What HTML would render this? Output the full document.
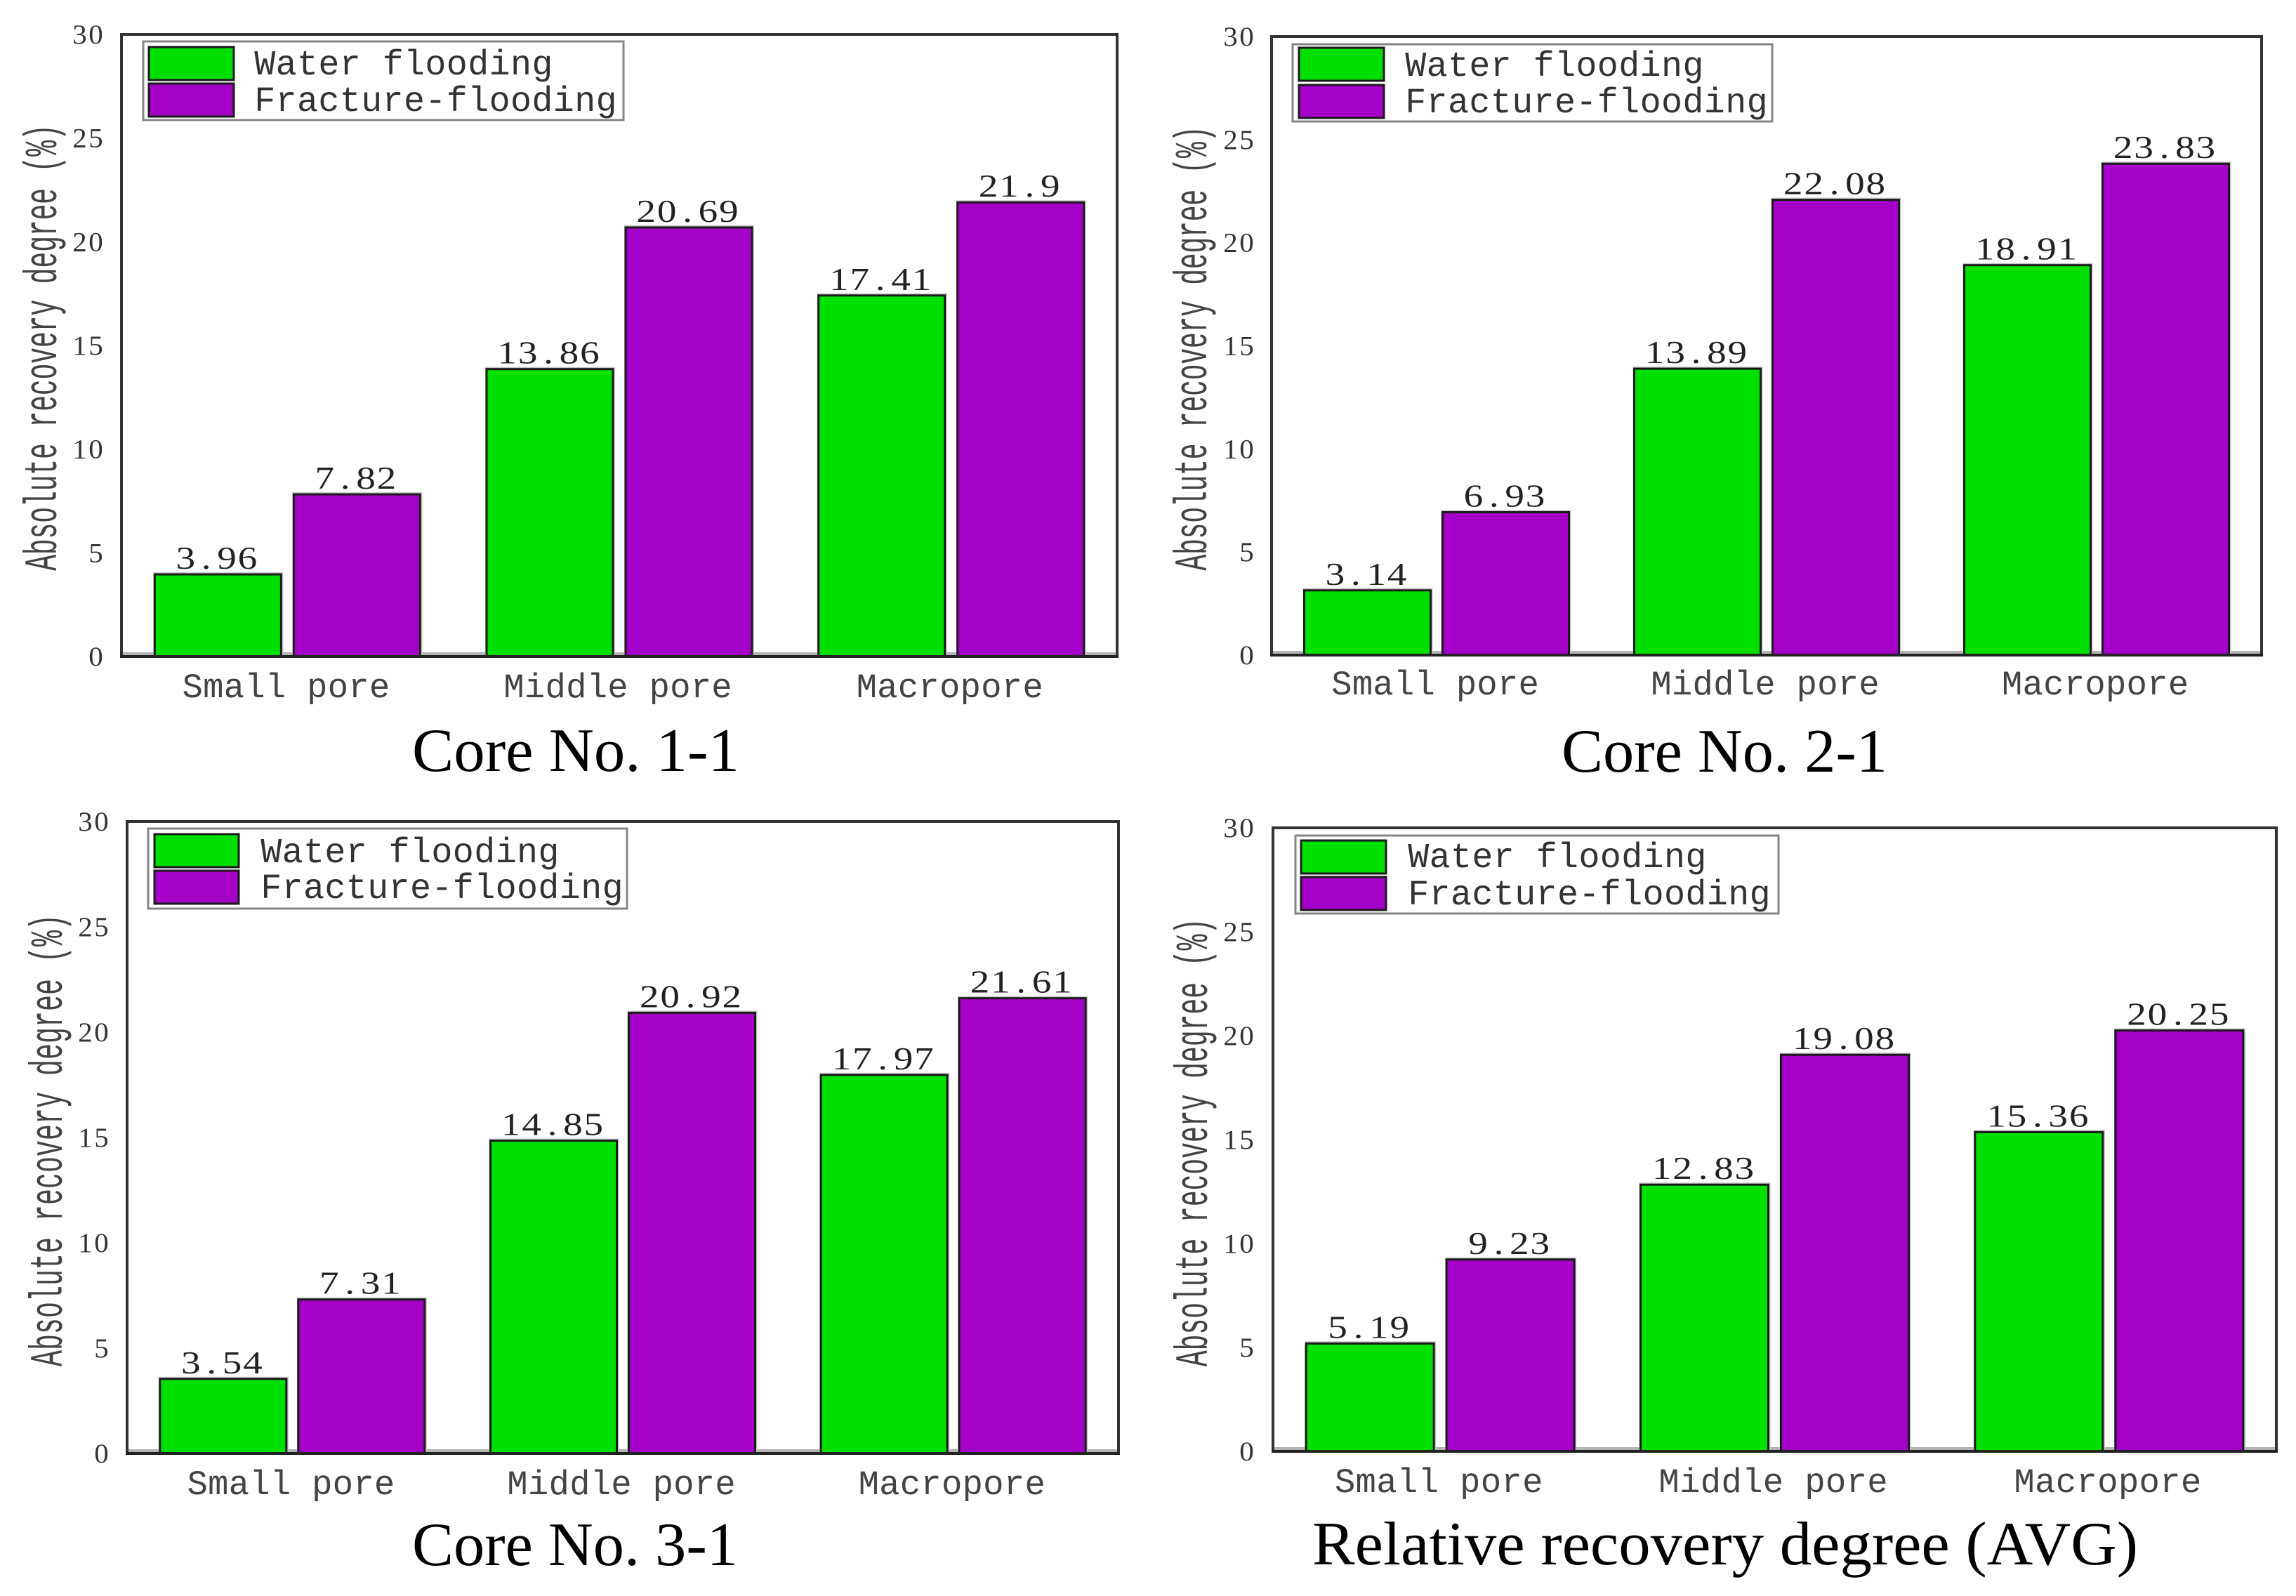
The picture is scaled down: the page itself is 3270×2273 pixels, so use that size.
<!DOCTYPE html>
<html lang="en">
<head>
<meta charset="utf-8">
<title>Recovery degree by pore size</title>
<style>
html,body{margin:0;padding:0;background:#fff;width:3270px;height:2273px;overflow:hidden}
svg{display:block}
text{font-family:"Liberation Serif","Noto Serif CJK SC",serif;white-space:pre}
text.slab{font-family:"Liberation Mono","Noto Sans CJK SC",monospace}
</style>
</head>
<body>
<svg id="figure" xmlns="http://www.w3.org/2000/svg" width="3270" height="2273" viewBox="0 0 3270 2273"></svg>
<script>
var categories = ['Small pore', 'Middle pore', 'Macropore'];
var seriesNames = ['Water flooding', 'Fracture-flooding'];
var yTicks = [0, 5, 10, 15, 20, 25, 30];
var yAxisMax = 30;
var yTitle = 'Absolute recovery degree (%)';

var water1 = [3.96, 13.86, 17.41];
var fracture1 = [7.82, 20.69, 21.9];
var water2 = [3.14, 13.89, 18.91];
var fracture2 = [6.93, 22.08, 23.83];
var water3 = [3.54, 14.85, 17.97];
var fracture3 = [7.31, 20.92, 21.61];
var water4 = [5.19, 12.83, 15.36];
var fracture4 = [9.23, 19.08, 20.25];

var captions = ['Core No. 1-1', 'Core No. 2-1', 'Core No. 3-1', 'Relative recovery degree (AVG)'];

var COLORS = ['#00e000', '#a500c8'];
var NS = 'http://www.w3.org/2000/svg';
var root = document.getElementById('figure');

var layouts = [
  {id:'core-1-1', water:water1, fracture:fracture1, caption:captions[0],
   l:173, r:1591, t:49, b:935, barW:180, gap:18, tickR:148, xBase:993, xPitch:29.6,
   titleX:80, titleC:495, titleP:22.7, capX:587, capW:466, capY:1098,
   lg:{x:204, y:59, w:684, h:112, sx:212, sw:121, s1:67, s2:119, sh:47, tx:362, b1:106, b2:158}},
  {id:'core-2-1', water:water2, fracture:fracture2, caption:captions[1],
   l:1811, r:3221, t:52, b:933, barW:180, gap:17, tickR:1787, xBase:989, xPitch:29.6,
   titleX:1718, titleC:496, titleP:22.6, capX:2224, capW:464, capY:1099,
   lg:{x:1841, y:63, w:683, h:110, sx:1850, sw:121, s1:68, s2:121, sh:47, tx:2001, b1:108, b2:160}},
  {id:'core-3-1', water:water3, fracture:fracture3, caption:captions[2],
   l:181, r:1593, t:1170, b:2070, barW:180, gap:17, tickR:156, xBase:2128, xPitch:29.6,
   titleX:88, titleC:1624, titleP:23, capX:587, capW:464, capY:2229,
   lg:{x:211, y:1180, w:682, h:114, sx:220, sw:120, s1:1188, s2:1240, sh:47, tx:371, b1:1228, b2:1279}},
  {id:'relative-avg', water:water4, fracture:fracture4, caption:captions[3],
   l:1813, r:3242, t:1179, b:2067, barW:182, gap:18, tickR:1787, xBase:2125, xPitch:29.7,
   titleX:1719, titleC:1627, titleP:22.8, capX:1869, capW:1176, capY:2228,
   lg:{x:1845, y:1190, w:688, h:111, sx:1853, sw:121, s1:1197, s2:1249, sh:47, tx:2005, b1:1235, b2:1288}}
];

function make(tag, parent, name, interactable, attrs) {
  var el = document.createElementNS(NS, tag);
  
  
  for (var k in attrs) { el.setAttribute(k, attrs[k]); }
  parent.appendChild(el);
  return el;
}

/* Fixed-pitch label: every character is centred in its own cell. */
function mono(parent, name, str, opt) {
  var n = str.length, local = opt.pitch / opt.sx, xs = [];
  for (var i = 0; i < n; i++) {
    var off = opt.align === 'start' ? i + 0.5 : opt.align === 'end' ? i - n + 0.5 : i - (n - 1) / 2;
    xs.push((off * local).toFixed(2));
  }
  var t = 'translate(' + opt.x + ',' + opt.y + ')' + (opt.rot ? ' rotate(' + opt.rot + ')' : '') + ' scale(' + opt.sx + ',1)';
  var el = make('text', parent, name, false, {
    x: xs.join(' '), y: 0, transform: t, 'text-anchor': 'middle',
    'font-size': opt.size, fill: opt.fill || '#2b2b2b'
  });
  if (opt.slab) { el.setAttribute('class', 'slab'); }
  el.textContent = str;
  return el;
}

function drawPanel(p) {
  var g = make('g', root, 'chart-' + p.id, false, {});
  var band = (p.r - p.l) / categories.length;
  function xCenter(i) { return p.l + (i + 0.5) * band; }
  function yPos(v) { return p.b - (v / yAxisMax) * (p.b - p.t); }

  make('rect', g, 'plot-frame', false, {x:p.l, y:p.t, width:p.r - p.l, height:p.b - p.t, fill:'#fff', stroke:'#333', 'stroke-width':4});
  make('line', g, 'baseline-shadow', false, {x1:p.l + 2, x2:p.r - 2, y1:p.b - 4, y2:p.b - 4, stroke:'#b4b4b4', 'stroke-width':4});

  yTicks.forEach(function (v) {
    mono(g, 'y-tick-' + v, String(v), {x:p.tickR, y:yPos(v) + 13, pitch:23, sx:1.05, size:39, align:'end', fill:'#333'});
  });

  mono(g, 'y-axis-title', yTitle, {x:p.titleX, y:p.titleC, rot:-90, pitch:p.titleP, sx:0.58, size:66, align:'middle', fill:'#444', slab:true});

  categories.forEach(function (c, i) {
    var cx = xCenter(i);
    mono(g, 'x-label-' + c.toLowerCase().replace(' ', '-'), c, {x:cx - 2, y:p.xBase, pitch:p.xPitch, sx:1, size:49, align:'middle', fill:'#444', slab:true});
    [p.water, p.fracture].forEach(function (vals, s) {
      var v = vals[i];
      var left = s === 0 ? cx - p.gap / 2 - p.barW : cx + p.gap / 2;
      var top = yPos(v);
      make('rect', g, 'bar-halo', false, {x:left - 2, y:top - 3, width:p.barW + 5, height:p.b - top + 3, fill:'#c4c4c4'});
      make('rect', g, (s === 0 ? 'water-bar-' : 'fracture-bar-') + i, false, {x:left, y:top, width:p.barW, height:p.b - top, fill:COLORS[s], stroke:'#1a1a1a', 'stroke-width':3});
      mono(g, (s === 0 ? 'water-value-' : 'fracture-value-') + i, String(v), {x:left + p.barW / 2 - 2, y:top - 8, pitch:29.4, sx:1.2, size:46, align:'middle', fill:'#222'});
    });
  });

  make('line', g, 'x-axis-line', false, {x1:p.l - 2, x2:p.r + 2, y1:p.b, y2:p.b, stroke:'#222', 'stroke-width':4});

  var L = p.lg;
  var lg = make('g', g, 'legend', false, {});
  make('rect', lg, 'legend-box', false, {x:L.x, y:L.y, width:L.w, height:L.h, fill:'#fff', stroke:'#858585', 'stroke-width':3});
  make('rect', lg, 'legend-swatch-water', false, {x:L.sx, y:L.s1, width:L.sw, height:L.sh, fill:COLORS[0], stroke:'#1a1a1a', 'stroke-width':3});
  make('rect', lg, 'legend-swatch-fracture', false, {x:L.sx, y:L.s2, width:L.sw, height:L.sh, fill:COLORS[1], stroke:'#1a1a1a', 'stroke-width':3});
  mono(lg, 'legend-label-water', seriesNames[0], {x:L.tx, y:L.b1, pitch:30.4, sx:1, size:50, align:'start', fill:'#333', slab:true});
  mono(lg, 'legend-label-fracture', seriesNames[1], {x:L.tx, y:L.b2, pitch:30.4, sx:1, size:50, align:'start', fill:'#333', slab:true});

  var cap = make('text', g, 'caption', false, {
    x:p.capX, y:p.capY, 'font-size':88, fill:'#000',
    textLength:p.capW, lengthAdjust:'spacingAndGlyphs'
  });
  cap.textContent = p.caption;
}

layouts.forEach(drawPanel);
</script>
</body>
</html>
